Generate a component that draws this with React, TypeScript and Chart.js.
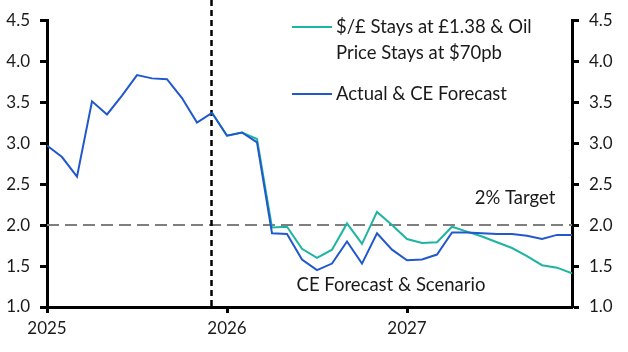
import React, { useEffect, useRef } from "react";
import { Chart, registerables } from "chart.js";
Chart.register(...registerables);

// Monthly, Jan 2025 .. Dec 2027
const monthIndex = [
  0, 1, 2, 3, 4, 5, 6, 7, 8, 9, 10, 11,
  12, 13, 14, 15, 16, 17, 18, 19, 20, 21, 22, 23,
  24, 25, 26, 27, 28, 29, 30, 31, 32, 33, 34, 35,
];
const yearTickPositions = [0, 12, 24];
const yearTickLabels = ["2025", "2026", "2027"];

const actualForecast = [
  2.97, 2.83, 2.59, 3.51, 3.35, 3.58, 3.83, 3.79, 3.78, 3.55, 3.25, 3.37,
  3.09, 3.13, 3.01, 1.9, 1.89, 1.58, 1.45, 1.53, 1.8, 1.53, 1.9, 1.7,
  1.57, 1.58, 1.64, 1.91, 1.91, 1.9, 1.89, 1.89, 1.87, 1.83, 1.88, 1.88,
];
const scenario = [
  null, null, null, null, null, null, null, null, null, null, null, 3.37,
  3.09, 3.13, 3.05, 1.97, 1.98, 1.71, 1.6, 1.7, 2.02, 1.77, 2.16, 2.0,
  1.83, 1.78, 1.79, 1.98, 1.92, 1.86, 1.79, 1.72, 1.62, 1.51, 1.48, 1.41,
];
const forecastStartIndex = 11;
const targetValue = 2.0;
const yTicks = [1.0, 1.5, 2.0, 2.5, 3.0, 3.5, 4.0, 4.5];

const seriesNames = ["$/£ Stays at £1.38 & Oil", "Price Stays at $70pb", "Actual & CE Forecast"];
const targetLabel = "2% Target";
const scenarioLabel = "CE Forecast & Scenario";

const TEAL = "#1db5a2";
const BLUE = "#2158cc";
const FONT = "Lato";

const overlay = {
  id: "overlay",
  beforeDatasetsDraw(chart: any) {
    const { ctx, chartArea, scales } = chart;
    const x = scales.x;
    const y = scales.y;
    ctx.save();
    // target line
    const ty = y.getPixelForValue(targetValue);
    ctx.strokeStyle = "#7f7f7f";
    ctx.lineWidth = 2;
    ctx.setLineDash([12, 6]);
    ctx.beginPath();
    ctx.moveTo(chartArea.left, ty);
    ctx.lineTo(chartArea.right, ty);
    ctx.stroke();
    // forecast divider
    const vx = Math.round(x.getPixelForValue(forecastStartIndex)) - 0.5;
    ctx.strokeStyle = "#000";
    ctx.lineWidth = 2.5;
    ctx.setLineDash([6, 4]);
    ctx.beginPath();
    ctx.moveTo(vx, 0);
    ctx.lineTo(vx, chartArea.bottom);
    ctx.stroke();
    ctx.restore();
  },
  afterDraw(chart: any) {
    const { ctx } = chart;
    ctx.save();
    ctx.font = `18.5px ${FONT}`;
    ctx.fillStyle = "#1a1a1a";
    ctx.textBaseline = "middle";
    ctx.textAlign = "left";
    // legend
    ctx.lineWidth = 2;
    ctx.strokeStyle = TEAL;
    ctx.beginPath();
    ctx.moveTo(292, 27);
    ctx.lineTo(332, 27);
    ctx.stroke();
    ctx.fillText(seriesNames[0], 336, 27);
    ctx.fillText(seriesNames[1], 336, 53);
    ctx.strokeStyle = BLUE;
    ctx.beginPath();
    ctx.moveTo(292, 94);
    ctx.lineTo(332, 94);
    ctx.stroke();
    ctx.fillText(seriesNames[2], 336, 94);
    // annotations
    ctx.textAlign = "center";
    ctx.fillText(targetLabel, 515, 198);
    ctx.fillText(scenarioLabel, 391, 285);
    ctx.restore();
  },
};

export default function App() {
  const ref = useRef<HTMLCanvasElement | null>(null);
  useEffect(() => {
    document.body.style.margin = "0";
    const canvas = ref.current!;
    const yScale = (position: "left" | "right", width: number) => ({
      type: "linear",
      position,
      min: 1,
      max: 4.5,
      afterBuildTicks: (s: any) => {
        s.ticks = yTicks.map((v) => ({ value: v }));
      },
      afterFit: (s: any) => {
        s.width = width;
      },
      border: { display: true, color: "#000", width: 3 },
      grid: {
        drawOnChartArea: false,
        drawTicks: true,
        tickLength: 7,
        tickWidth: 3,
        tickColor: "#000",
      },
      ticks: {
        color: "#1a1a1a",
        font: { family: FONT, size: 17 },
        padding: 10,
        callback: (v: any) => Number(v).toFixed(1),
      },
    });
    const chart = new Chart(canvas, {
      type: "line",
      data: {
        datasets: [
          {
            label: seriesNames[2],
            data: monthIndex.map((m, i) => ({ x: m, y: actualForecast[i] })),
            borderColor: BLUE,
            borderWidth: 2,
            pointRadius: 0,
            tension: 0,
            order: 0,
          },
          {
            label: seriesNames[0] + " " + seriesNames[1],
            data: monthIndex.map((m, i) => ({ x: m, y: scenario[i] })),
            borderColor: TEAL,
            borderWidth: 2,
            pointRadius: 0,
            tension: 0,
            spanGaps: false,
            order: 1,
          },
        ],
      },
      options: {
        animation: false,
        responsive: true,
        maintainAspectRatio: false,
        layout: { padding: { top: 15, left: 0, right: 0, bottom: 0 } },
        plugins: { legend: { display: false }, tooltip: { enabled: false } },
        scales: {
          x: {
            type: "linear",
            min: 0,
            max: 35,
            afterBuildTicks: (s: any) => {
              s.ticks = yearTickPositions.map((v) => ({ value: v }));
            },
            afterFit: (s: any) => {
              s.height = 45;
            },
            border: { display: true, color: "#000", width: 3 },
            grid: {
              drawOnChartArea: false,
              drawTicks: true,
              tickLength: 6,
              tickWidth: 3,
              tickColor: "#000",
            },
            ticks: {
              color: "#1a1a1a",
              font: { family: FONT, size: 17 },
              padding: 5,
              maxRotation: 0,
              autoSkip: false,
              callback: (v: any) => {
                const k = yearTickPositions.indexOf(Number(v));
                return k >= 0 ? yearTickLabels[k] : "";
              },
            },
          },
          y: yScale("left", 47) as any,
          y2: yScale("right", 56) as any,
        },
      },
      plugins: [overlay],
    } as any);
    return () => chart.destroy();
  }, []);
  return (
    <div style={{ position: "relative", width: 628, height: 352 }}>
      <canvas ref={ref} />
    </div>
  );
}
